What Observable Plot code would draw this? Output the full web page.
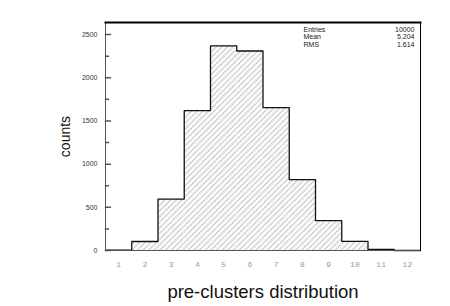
<!DOCTYPE html>
<html>
<head>
<meta charset="utf-8">
<script src="https://cdn.jsdelivr.net/npm/d3@7"></script>
<script src="https://cdn.jsdelivr.net/npm/@observablehq/plot@0.6"></script>
<style>
  html, body { margin: 0; padding: 0; background: #fff; }
  #chart svg { display: block; }
</style>
</head>
<body>
<div id="chart"></div>
<script>
// Data
const bins = [1, 2, 3, 4, 5, 6, 7, 8, 9, 10, 11, 12];
const counts = [5, 104, 595, 1620, 2370, 2310, 1655, 820, 345, 105, 12, 0];
const xTicks = [1, 2, 3, 4, 5, 6, 7, 8, 9, 10, 11, 12];
const xDomain = [0.5, 12.5];
const yMajor = [0, 500, 1000, 1500, 2000, 2500];
const yMinor = [250, 750, 1250, 1750, 2250];
const statNames = ["Entries", "Mean", "RMS"];
const statValues = ["10000", "5.204", "1.614"];

const table = bins.map((b, i) => ({b, lo: b - 0.5, hi: b + 0.5, n: counts[i]}));
const contour = [{x: table[0].lo, y: 0}, ...table.map(d => ({x: d.lo, y: d.n})), {x: table[table.length - 1].hi, y: 0}];

const tickShape = {draw(context, l) { context.moveTo(0, 0); context.lineTo(0, -l); }};

const chart = Plot.plot({
  width: 450,
  height: 306,
  marginLeft: 105,
  marginRight: 30,
  marginTop: 22,
  marginBottom: 56,
  style: {fontFamily: "Liberation Sans, Arial, sans-serif", background: "#fff"},
  x: {domain: xDomain},
  y: {domain: [0, 2640]},
  marks: [
    Plot.rectY(table, {x1: "lo", x2: "hi", y: "n", fill: "url(#hatch)"}),
    Plot.line(contour, {x: "x", y: "y", curve: "step-after", stroke: "#111", strokeWidth: 1.3}),
    Plot.frame({anchor: "left", stroke: "#555"}),
    Plot.frame({anchor: "bottom", stroke: "#555"}),
    Plot.frame({anchor: "top", stroke: "#000", strokeWidth: 2}),
    Plot.frame({anchor: "right", stroke: "#000"}),
    Plot.vector(yMajor, {x: xDomain[0], y: d => d, rotate: 90, length: 5, anchor: "start", shape: tickShape, stroke: "#555"}),
    Plot.vector(yMinor, {x: xDomain[0], y: d => d, rotate: 90, length: 3, anchor: "start", shape: tickShape, stroke: "#555"}),
    Plot.axisY({ticks: yMajor, tickSize: 0, tickPadding: 8, fontSize: 7, fill: "#333", label: null, tickFormat: d => String(d)}),
    Plot.axisY({ticks: [], label: "counts", labelAnchor: "center", labelArrow: "none", labelOffset: 45, fontSize: 14, fill: "#111"}),
    Plot.axisX({ticks: xTicks, tickSize: 0, tickPadding: 11, fontSize: 8, fill: "#999", fontFamily: "Liberation Mono, monospace", label: null}),
    Plot.axisX({ticks: [], label: "pre-clusters distribution", labelAnchor: "center", labelArrow: "none", labelOffset: 47, fontSize: 18.5, fill: "#111"}),
    Plot.text([statNames.join("\n")], {frameAnchor: "top-left", dx: 198, dy: 4, fontSize: 7, lineHeight: 1.08, textAnchor: "start", fill: "#222"}),
    Plot.text([statValues.join("\n")], {frameAnchor: "top-right", dx: -6, dy: 4, fontSize: 7, lineHeight: 1.08, textAnchor: "end", fill: "#222"})
  ]
});

// hatch pattern: dotted diagonal lines
const svg = d3.select(chart);
const defs = svg.insert("defs", ":first-child");
const pat = defs.append("pattern")
  .attr("id", "hatch")
  .attr("patternUnits", "userSpaceOnUse")
  .attr("width", 4).attr("height", 4)
  .attr("patternTransform", "rotate(-45)");
pat.append("rect").attr("width", 4).attr("height", 4).attr("fill", "#fff");
pat.append("line").attr("x1", 0).attr("y1", 2).attr("x2", 4).attr("y2", 2)
  .attr("stroke", "#8a8a8a").attr("stroke-width", 1.2).attr("stroke-dasharray", "1.2,0.8");

document.getElementById("chart").appendChild(chart);
</script>
</body>
</html>
